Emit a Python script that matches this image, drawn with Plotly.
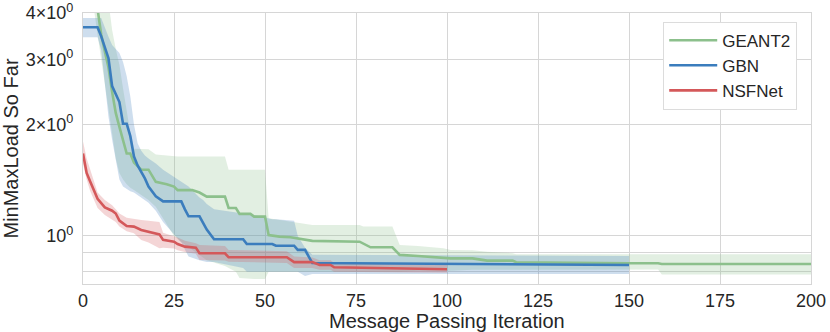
import plotly.graph_objects as go

# best-so-far MinMaxLoad per message passing iteration (mean and band edges)
geant_iter = [0, 3, 4, 5, 6, 7, 8, 9, 10, 11, 12, 13, 14, 16, 18, 20, 23, 25, 26, 30,
              32, 34, 39, 40, 42, 43, 46, 47, 50, 51, 54, 57, 60, 63, 76, 77, 79, 85, 87, 92,
              99, 101, 107, 111, 118, 119, 150, 158, 159, 200]
geant_mean = [4.6, 4.6, 4.1, 3.5, 3.15, 2.85, 2.45, 2.15, 1.97, 1.80, 1.67, 1.67, 1.58, 1.51, 1.51, 1.40, 1.38, 1.36, 1.33, 1.33,
              1.31, 1.277, 1.277, 1.19, 1.19, 1.147, 1.147, 1.128, 1.128, 1.006, 0.996, 0.992, 0.98, 0.97, 0.965, 0.955, 0.932, 0.932, 0.889, 0.883,
              0.876, 0.87, 0.87, 0.858, 0.858, 0.849, 0.844, 0.844, 0.84, 0.84]
geant_upper = [6.0, 6.0, 6.0, 5.5, 5.0, 4.3, 3.6, 3.2, 2.9, 2.5, 2.2, 1.9, 1.72, 1.715, 1.715, 1.66, 1.65, 1.645, 1.64, 1.638,
               1.638, 1.638, 1.638, 1.51, 1.51, 1.51, 1.51, 1.51, 1.51, 1.116, 1.105, 1.095, 1.085, 1.071, 1.071, 1.06, 1.06, 1.06, 0.945, 0.94,
               0.926, 0.917, 0.915, 0.907, 0.898, 0.893, 0.893, 0.893, 0.893, 0.893]
geant_lower = [4.1, 4.1, 3.5, 3.0, 2.55, 2.15, 1.85, 1.62, 1.48, 1.42, 1.38, 1.35, 1.33, 1.29, 1.25, 1.2, 1.07, 1.0, 0.98, 0.92,
               0.89, 0.86, 0.83, 0.82, 0.80, 0.77, 0.765, 0.765, 0.765, 0.80, 0.80, 0.80, 0.80, 0.80, 0.80, 0.80, 0.80, 0.80, 0.80, 0.805,
               0.805, 0.805, 0.81, 0.81, 0.81, 0.81, 0.812, 0.812, 0.787, 0.787]

gbn_iter = [0, 4, 5, 7, 8, 10, 11, 12, 13, 14, 15, 16, 17, 18, 20, 22, 27, 28, 29, 32,
            33, 34, 36, 44, 45, 52, 53, 58, 59, 61, 63, 150]
gbn_mean = [3.66, 3.66, 3.46, 3.02, 2.54, 2.30, 2.01, 2.01, 1.86, 1.64, 1.55, 1.49, 1.43, 1.36, 1.28, 1.24, 1.24, 1.18, 1.13, 1.13,
            1.08, 1.04, 0.98, 0.98, 0.951, 0.951, 0.941, 0.941, 0.917, 0.917, 0.845, 0.835]
gbn_upper = [3.88, 3.88, 3.88, 3.45, 3.28, 3.12, 2.95, 2.7, 2.38, 2.0, 1.78, 1.70, 1.65, 1.62, 1.57, 1.51, 1.40, 1.38, 1.36, 1.27,
             1.25, 1.22, 1.18, 1.15, 1.15, 1.11, 1.11, 1.10, 1.00, 0.93, 0.89, 0.883]
gbn_lower = [3.44, 3.44, 3.18, 2.1, 1.82, 1.42, 1.36, 1.34, 1.32, 1.31, 1.29, 1.27, 1.25, 1.23, 1.17, 1.09, 0.96, 0.92, 0.88, 0.86,
             0.855, 0.85, 0.85, 0.82, 0.80, 0.80, 0.80, 0.80, 0.80, 0.78, 0.79, 0.79]

nsf_iter = [0, 1, 2, 3, 4, 6, 8, 9, 10, 12, 14, 16, 18, 20, 21, 22, 25, 26, 28, 31,
            32, 39, 40, 56, 58, 63, 65, 68, 69, 100]
nsf_mean = [1.67, 1.48, 1.40, 1.33, 1.26, 1.195, 1.17, 1.15, 1.10, 1.064, 1.06, 1.038, 1.027, 1.015, 1.01, 0.976, 0.965, 0.951, 0.936, 0.93,
            0.898, 0.898, 0.876, 0.876, 0.85, 0.85, 0.835, 0.835, 0.823, 0.813]
nsf_upper = [1.80, 1.62, 1.51, 1.40, 1.31, 1.25, 1.21, 1.18, 1.15, 1.12, 1.11, 1.105, 1.10, 1.095, 1.09, 1.02, 1.0, 0.99, 0.97, 0.955,
             0.945, 0.94, 0.917, 0.91, 0.88, 0.875, 0.86, 0.86, 0.845, 0.835]
nsf_lower = [1.57, 1.42, 1.32, 1.26, 1.19, 1.14, 1.11, 1.09, 1.06, 1.03, 1.017, 0.976, 0.96, 0.935, 0.926, 0.93, 0.925, 0.915, 0.905, 0.895,
             0.861, 0.858, 0.852, 0.845, 0.82, 0.82, 0.81, 0.81, 0.80, 0.795]

x_ticks = [0, 25, 50, 75, 100, 125, 150, 175, 200]
y_ticks = [0.8, 0.9, 1, 2, 3, 4]
y_tick_text = ["", "", "10<sup>0</sup>", "2×10<sup>0</sup>", "3×10<sup>0</sup>", "4×10<sup>0</sup>"]

_FONT = "Liberation Sans, Arial, sans-serif"
_GRID = "#d6d6d6"
_TEXT = "#262626"


def _rgba(hex_color, alpha):
    h = hex_color.lstrip("#")
    r, g, b = int(h[0:2], 16), int(h[2:4], 16), int(h[4:6], 16)
    return f"rgba({r},{g},{b},{alpha})"


series = [
    ("GEANT2", "#8cc08c", geant_iter, geant_mean, geant_upper, geant_lower),
    ("GBN", "#3b7dbd", gbn_iter, gbn_mean, gbn_upper, gbn_lower),
    ("NSFNet", "#d4585a", nsf_iter, nsf_mean, nsf_upper, nsf_lower),
]

fig = go.Figure()

# bands first so every line sits on top of them
for name, c, xs, _, hi, lo in series:
    fig.add_trace(go.Scatter(x=xs, y=hi, mode="lines", line=dict(width=0),
                             showlegend=False, hoverinfo="skip"))
    fig.add_trace(go.Scatter(x=xs, y=lo, mode="lines", line=dict(width=0),
                             fill="tonexty", fillcolor=_rgba(c, 0.25),
                             showlegend=False, hoverinfo="skip"))

for name, c, xs, mean, _, _ in series:
    fig.add_trace(go.Scatter(x=xs, y=mean, mode="lines", name=name,
                             line=dict(color=c, width=2.6)))

fig.update_layout(
    width=830, height=332,
    margin=dict(l=83, r=19, t=13, b=48),
    paper_bgcolor="white", plot_bgcolor="white",
    font=dict(family=_FONT, size=18, color=_TEXT),
    showlegend=True,
    legend=dict(x=0.797, y=0.968, xanchor="left", yanchor="top", traceorder="normal",
                bgcolor="white", bordercolor="#dcdcdc", borderwidth=1,
                font=dict(size=17), itemwidth=48, tracegroupgap=0),
    # x title as an annotation so it can sit closer to the tick labels
    annotations=[dict(text="Message Passing Iteration", xref="paper", yref="paper",
                      x=0.5, y=-0.135, xanchor="center", yanchor="middle",
                      showarrow=False, font=dict(size=20))],
)
fig.update_xaxes(
    range=[0, 200], tickvals=x_ticks, showgrid=True, gridcolor=_GRID, gridwidth=1.2,
    showline=True, linecolor=_GRID, linewidth=1.2, mirror=True, zeroline=False,
    ticks="", ticklen=0, tickfont=dict(size=18), automargin=False,
)
fig.update_yaxes(
    type="log", range=[-0.1297, 0.6021], tickvals=y_ticks, ticktext=y_tick_text,
    showgrid=True, gridcolor=_GRID, gridwidth=1.2,
    showline=True, linecolor=_GRID, linewidth=1.2, mirror=True, zeroline=False,
    ticks="", ticklen=0, tickfont=dict(size=18), ticklabelstandoff=5, automargin=False,
    title=dict(text="MinMaxLoad So Far", font=dict(size=20), standoff=4),
)

# drop the default body margin so the figure starts at the page corner
fig.write_html("out.html", config={"displayModeBar": False},
               post_script="document.body.style.margin='0';")
